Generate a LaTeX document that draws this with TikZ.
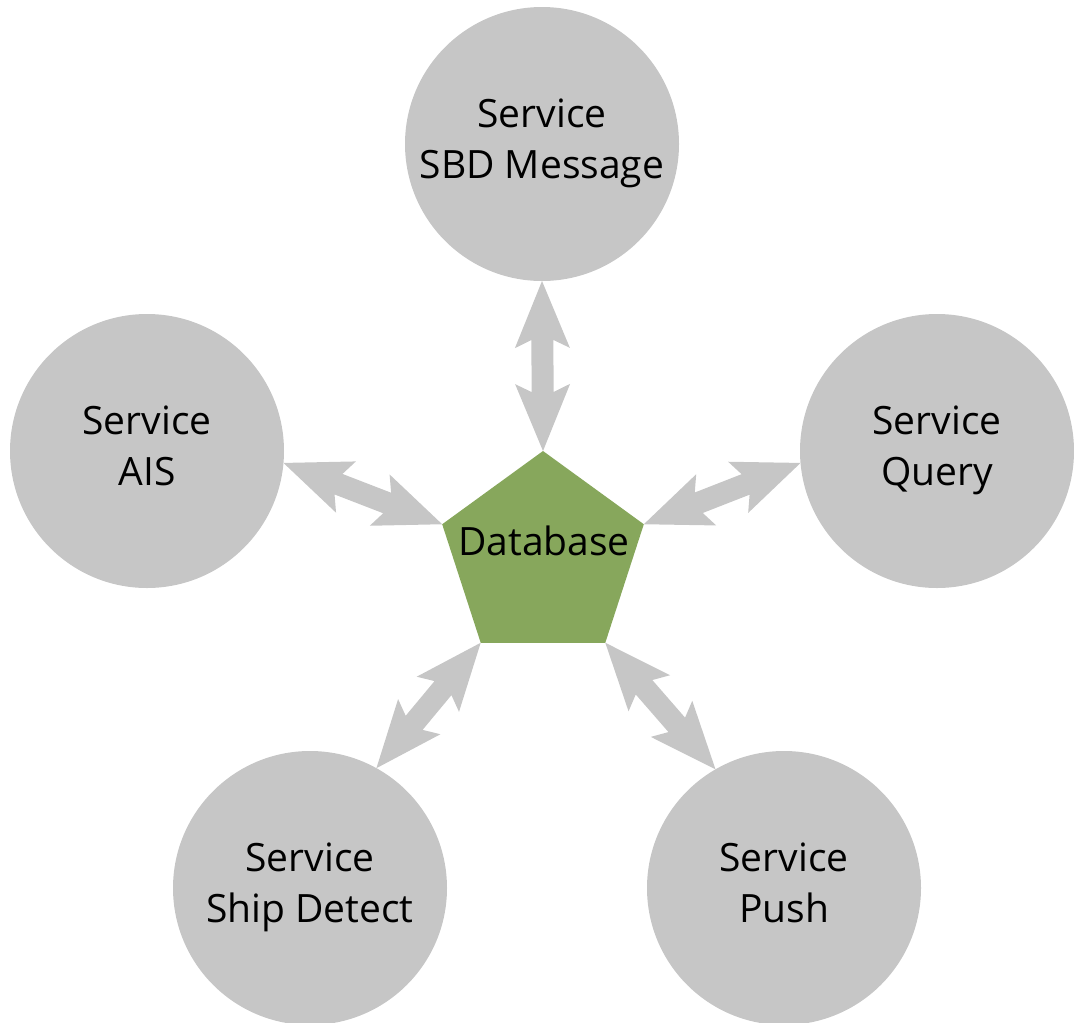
\documentclass[tikz,border=0pt]{standalone}
\usepackage{fontspec}
\setmainfont{Open Sans}
\usetikzlibrary{shapes.geometric,calc}

\definecolor{svcgray}{HTML}{C6C6C6}
\definecolor{dbgreen}{HTML}{87A75C}

% Broad double-headed arrow between two named points
\newcommand\twowayarrow[2]{%
  \path let \p1=(#1), \p2=(#2) in
    \pgfextra{\pgfmathsetmacro\arwang{atan2(\y2-\y1,\x2-\x1)}%
              \pgfmathsetmacro\arwlen{veclen(\x2-\x1,\y2-\y1)}%
              \global\let\arwang\arwang
              \global\let\arwlen\arwlen};
  \fill[arrowfill, shift={(#1)}, rotate=\arwang]
    (0pt,0pt) -- (67pt,27.5pt) -- (59pt,11pt) -- (\arwlen pt-59pt,11pt)
    -- (\arwlen pt-67pt,27.5pt) -- (\arwlen pt,0pt) -- (\arwlen pt-67pt,-27.5pt)
    -- (\arwlen pt-59pt,-11pt) -- (59pt,-11pt) -- (67pt,-27.5pt) -- cycle;}

\begin{document}
\begin{tikzpicture}[x=1pt,y=-1pt,
  service/.style={circle, fill=svcgray, minimum size=274pt, inner sep=0pt,
    outer sep=0pt, align=center, font=\fontsize{39}{51}\selectfont,
    text height=79pt, text depth=11pt},
  database/.style={regular polygon, regular polygon sides=5, fill=dbgreen,
    minimum size=212pt, inner sep=0pt, outer sep=0pt},
  dblabel/.style={font=\fontsize{39}{51}\selectfont, inner sep=0pt, anchor=base},
  arrowfill/.style={fill=svcgray}]

\useasboundingbox (0,0) rectangle (1074,1023);

\node[service] (sbd)   at (542,144) {Service\\SBD Message};
\node[service] (ais)   at (147,451) {Service\\AIS};
\node[service] (query) at (937,451) {Service\\Query};
\node[service] (ship)  at (310,888) {Service\\Ship Detect};
\node[service] (push)  at (784,888) {Service\\Push};

\node[database] (db) at (543,557) {};
\node[dblabel] (dbtext) at (544,555) {Database};

\twowayarrow{sbd.south}{db.corner 1}
\twowayarrow{ais.-5}{db.corner 2}
\twowayarrow{query.185}{db.corner 5}
\twowayarrow{ship.61}{db.corner 3}
\twowayarrow{push.120}{db.corner 4}
\end{tikzpicture}
\end{document}
